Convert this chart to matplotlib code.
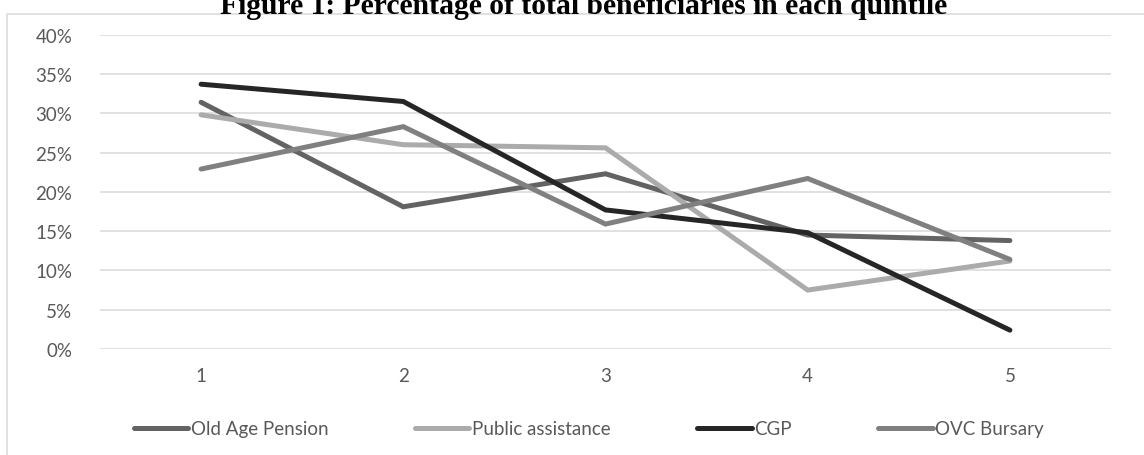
import matplotlib
matplotlib.use("Agg")
import matplotlib.pyplot as plt
from matplotlib.lines import Line2D
from matplotlib.patches import Rectangle

# share of total beneficiaries (%) by income quintile
quintiles = [1, 2, 3, 4, 5]
old_age_pension = [31.4, 18.1, 22.3, 14.5, 13.8]
public_assistance = [29.8, 26.0, 25.6, 7.5, 11.2]
cgp = [33.7, 31.5, 17.7, 14.8, 2.4]
ovc_bursary = [22.9, 28.3, 15.9, 21.7, 11.4]

series = [
    ("Old Age Pension", old_age_pension, "#636363"),
    ("Public assistance", public_assistance, "#ababab"),
    ("CGP", cgp, "#262626"),
    ("OVC Bursary", ovc_bursary, "#808080"),
]
yticks = [0, 5, 10, 15, 20, 25, 30, 35, 40]

W, H = 1144, 456
fig = plt.figure(figsize=(W / 100, H / 100), dpi=100)
ax = fig.add_axes([100 / W, (H - 350) / H, 1011 / W, 314.3 / H])

TXT = "#595959"
GRID = "#d9d9d9"
FS = 13.5

for y in yticks:
    ax.axhline(y, color=GRID, lw=1.1, zorder=1)

handles = []
for name, vals, col in series:
    ax.plot(quintiles, vals, color=col, lw=3.6, solid_capstyle="round",
            solid_joinstyle="miter", zorder=3)
    handles.append(Line2D([0], [0], color=col, lw=3.6, solid_capstyle="round",
                          label=name))

ax.set_xlim(0.5, 5.5)
ax.set_ylim(0, 40)
ax.set_yticks(yticks)
ax.set_yticklabels([f"{v}%" for v in yticks])
ax.set_xticks(quintiles)
ax.tick_params(length=0, labelsize=FS, labelcolor=TXT)
ax.tick_params(axis="y", pad=20)
ax.tick_params(axis="x", pad=13)
for s in ax.spines.values():
    s.set_visible(False)
for lab in ax.get_xticklabels() + ax.get_yticklabels():
    lab.set_fontfamily("Lato")

fig.legend(handles=handles, loc="center", bbox_to_anchor=(589 / W, (H - 430) / H),
           ncol=4, frameon=False, handlelength=2.9, handletextpad=0.15,
           columnspacing=4.6, prop={"family": "Lato", "size": FS},
           labelcolor=TXT)

# chart frame
fig.patches.append(Rectangle((7 / W, -0.1), 1.2, (H - 15) / H + 0.1,
                             transform=fig.transFigure, fill=False,
                             edgecolor=GRID, lw=1.1, zorder=0))

fig.text(583.5 / W, (H - 14) / H,
         "Figure 1: Percentage of total beneficiaries in each quintile",
         ha="center", va="baseline", fontsize=21.3, fontweight="bold",
         family="Liberation Serif", color="black")

fig.savefig("out.png", dpi=100)
